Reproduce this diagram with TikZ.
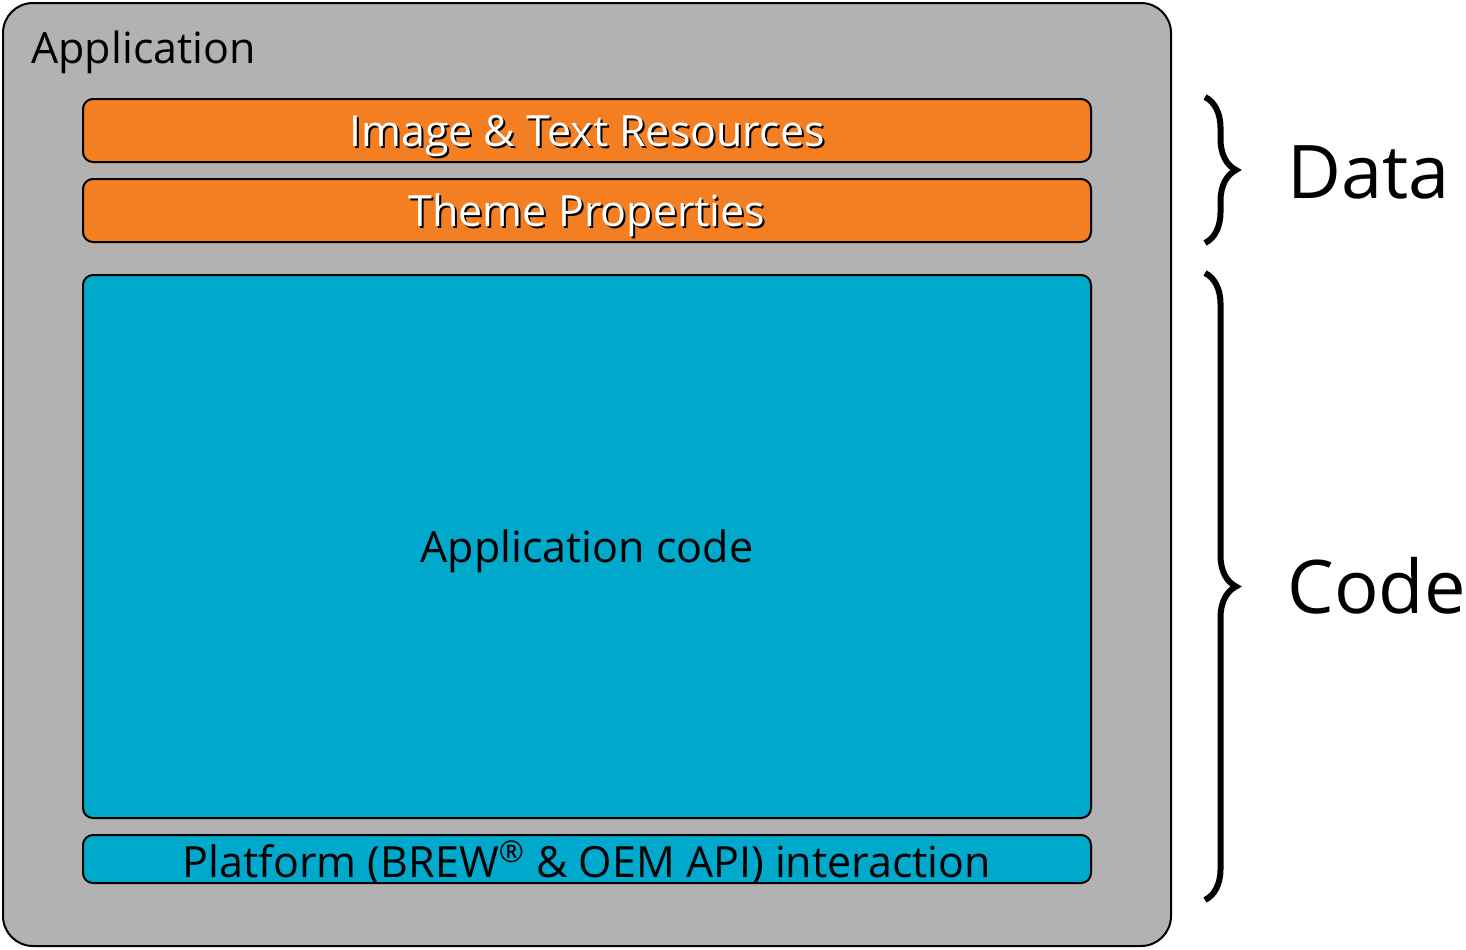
\documentclass[tikz,border=0pt]{standalone}
\usepackage{fontspec}
\setmainfont{Open Sans}
\usepackage{xcolor}
\usetikzlibrary{positioning, decorations.pathreplacing}
\definecolor{appgray}{HTML}{B2B2B2}
\definecolor{dataorange}{HTML}{F47F22}
\definecolor{codeblue}{HTML}{00A9CC}
\newcommand{\shadowed}[1]{\rlap{\kern1pt\raisebox{-1pt}{\color{black}#1}}{\color{white}#1}}

\begin{document}
\begin{tikzpicture}[x=0.5pt, y=-0.5pt,
  layer/.style={draw=black, line width=1pt, rounded corners=5pt,
    minimum width=504pt, inner sep=0pt, text depth=0pt,
    font=\fontsize{21.5}{24}\selectfont},
  databox/.style={layer, fill=dataorange, minimum height=31.5pt},
  codebox/.style={layer, fill=codeblue},
  bracket/.style={decorate, decoration={brace, amplitude=15.5pt},
    line width=3pt},
  side/.style={anchor=west, inner sep=0pt, font=\fontsize{37}{40}\selectfont}]
\useasboundingbox (0,0) rectangle (1466,949);
% Outer application frame
\node[draw=black, line width=1pt, fill=appgray, rounded corners=15pt,
  minimum width=584pt, minimum height=471.5pt] (app) at (587,474.5) {};
\node[anchor=base west, inner sep=0pt, font=\fontsize{21.5}{24}\selectfont]
  (apptitle) at (31,63) {Application};
% Data layers
\node[databox] (resources) at (587,130.5) {\shadowed{Image \& Text Resources}};
\node[databox] (theme) at (587,210.5) {\shadowed{Theme Properties}};
% Code layers
\node[codebox, minimum height=271.5pt] (appcode) at (587,546.5) {Application code};
\node[codebox, minimum height=24pt] (platform) at (587,859)
  {Platform (BREW\textsuperscript{®} \& OEM API) interaction};
% Braces
\coordinate (datatop) at (1205,97);
\coordinate (databot) at (1205,243);
\coordinate (codetop) at (1205,273);
\coordinate (codebot) at (1205,900);
\draw[bracket] (datatop) -- (databot);
\draw[bracket] (codetop) -- (codebot);
% Brace labels
\node[side] (datalabel) at (1287,172) {Data};
\node[side] (codelabel) at (1287,586) {Code};
\end{tikzpicture}
\end{document}
